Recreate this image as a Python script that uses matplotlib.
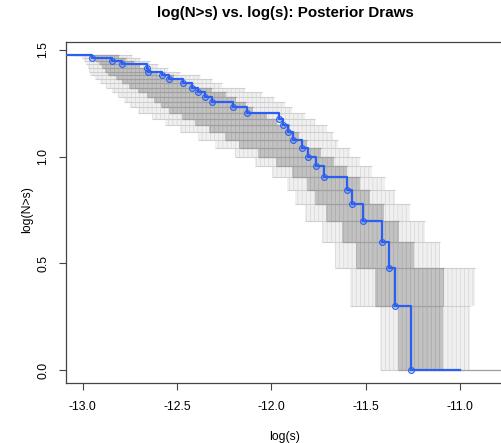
import numpy as np
import matplotlib.pyplot as plt

plt.rcParams['font.family'] = ['Liberation Sans', 'DejaVu Sans']
plt.rcParams['axes.unicode_minus'] = False
plt.rcParams['hatch.linewidth'] = 0.5

# observed sources: sorted log(s) and the count N>s reached at each step
obs_log_s = [-13.15, -12.952, -12.846, -12.790, -12.661, -12.654, -12.581, -12.541,
             -12.470, -12.421, -12.386, -12.349, -12.316, -12.205, -12.131, -11.958,
             -11.937, -11.910, -11.887, -11.839, -11.804, -11.765, -11.720, -11.601,
             -11.571, -11.516, -11.412, -11.375, -11.345, -11.260]
obs_count = [30, 29, 28, 27, 26, 25, 24, 23, 22, 21, 20, 19, 18, 17, 16, 15,
             14, 13, 12, 11, 10, 9, 8, 7, 6, 5, 4, 3, 2, 1]
obs_end = -11.0

# posterior draws: spread of log(s) at each drop (counts 29 .. 1)
draw_lo = [-13.004, -12.993, -12.983, -12.972, -12.967, -12.961, -12.935, -12.908,
           -12.877, -12.845, -12.813, -12.782, -12.749, -12.707, -12.633, -12.564,
           -12.484, -12.389, -12.299, -12.193, -12.087, -11.997, -11.917, -11.875,
           -11.822, -11.732, -11.663, -11.583, -11.424]
draw_core_lo = [-12.951, -12.934, -12.915, -12.898, -12.883, -12.866, -12.824, -12.789,
                -12.754, -12.704, -12.660, -12.623, -12.585, -12.544, -12.471, -12.405,
                -12.328, -12.246, -12.169, -12.071, -11.976, -11.891, -11.813, -11.769,
                -11.711, -11.623, -11.552, -11.451, -11.329]
draw_core_hi = [-12.805, -12.770, -12.728, -12.694, -12.653, -12.603, -12.517, -12.463,
                -12.416, -12.316, -12.241, -12.185, -12.133, -12.095, -12.025, -11.968,
                -11.900, -11.853, -11.810, -11.736, -11.669, -11.600, -11.528, -11.478,
                -11.405, -11.323, -11.246, -11.087, -11.089]
draw_hi = [-12.739, -12.696, -12.643, -12.601, -12.548, -12.484, -12.378, -12.315,
           -12.262, -12.140, -12.050, -11.986, -11.928, -11.891, -11.822, -11.769,
           -11.705, -11.674, -11.647, -11.583, -11.530, -11.467, -11.398, -11.345,
           -11.266, -11.186, -11.107, -10.921, -10.947]
draw_start = -13.05
draw_end = -10.70

BLUE = '#2b5ff2'

fig = plt.figure(figsize=(5.02, 4.43), dpi=100)
ax = fig.add_axes([66/502, 60/443, 438/502, 341/443])

lev = np.log10(obs_count)
n = len(obs_count)

# grey curtains of vertical draw lines
for i in range(1, n):
    y_top, y_bot = lev[i-1], lev[i]
    ax.fill_between([draw_lo[i-1], draw_hi[i-1]], y_bot, y_top,
                    facecolor='#f0f0f0', edgecolor='#d6d6d6', hatch='||||',
                    lw=0, zorder=1)
    ax.fill_between([draw_core_lo[i-1], draw_core_hi[i-1]], y_bot, y_top,
                    facecolor='#c2c2c2', edgecolor='#a8a8a8', hatch='||||',
                    lw=0, zorder=1.1)

# horizontal pieces of the draws at every level
for i in range(n):
    x0 = draw_start if i == 0 else draw_lo[i-1]
    x1 = draw_end if i == n-1 else draw_hi[i]
    c0 = draw_start if i == 0 else draw_core_lo[i-1]
    c1 = draw_end if i == n-1 else draw_core_hi[i]
    ax.hlines(lev[i], x0, x1, color='#cfcfcf', lw=0.8, zorder=1.2)
    ax.hlines(lev[i], c0, c1, color='#a0a0a0', lw=0.9, zorder=1.3)

# observed step function
ax.step(list(obs_log_s) + [obs_end], list(lev) + [lev[-1]], where='post',
        color=BLUE, lw=1.6, zorder=3)
ax.plot(obs_log_s, lev, 'o', ms=4.2, mfc=(0.17, 0.37, 0.95, 0.2),
        mec=BLUE, mew=0.8, zorder=4)

ax.set_xlim(-13.088, -10.767)
ax.set_ylim(-0.059, 1.536)
ax.set_xticks([-13.0, -12.5, -12.0, -11.5, -11.0])
ax.set_xticklabels(['-13.0', '-12.5', '-12.0', '-11.5', '-11.0'])
ax.set_yticks([0.0, 0.5, 1.0, 1.5])
ax.set_yticklabels(['0.0', '0.5', '1.0', '1.5'])
ax.tick_params(axis='both', length=5, width=0.8, color='#444444', labelsize=8.8)
ax.tick_params(axis='x', pad=8)
ax.tick_params(axis='y', pad=7, labelrotation=90)
for lab in ax.get_yticklabels():
    lab.set_va('center')
for sp in ax.spines.values():
    sp.set_color('#444444')
    sp.set_linewidth(0.9)

fig.text(285/502, 1 - 13/443, 'log(N>s) vs. log(s): Posterior Draws',
         ha='center', va='center', fontsize=10.9, fontweight='bold')
fig.text(285/502, 1 - 436.7/443, 'log(s)', ha='center', va='center', fontsize=8.8)
fig.text(27/502, 1 - 210/443, 'log(N>s)', ha='center', va='center',
         rotation=90, fontsize=8.8)

fig.savefig('out.png', dpi=100)
